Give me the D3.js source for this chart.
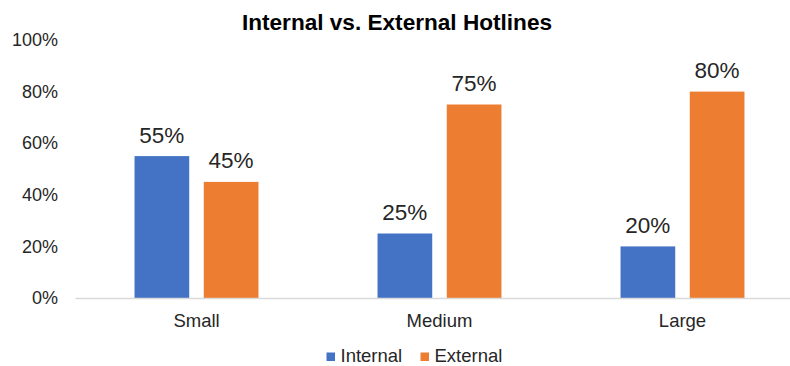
<!DOCTYPE html>
<html>
<head>
<meta charset="utf-8">
<script src="https://cdn.jsdelivr.net/npm/d3@7"></script>
<style>
  body { margin: 0; background: #fff; overflow: hidden; }
  text { font-family: "Liberation Sans", Arial, sans-serif; fill: #262626; }
</style>
</head>
<body>
<div id="wrapper"></div>
<script>
const categories = ["Small", "Medium", "Large"]
const seriesNames = ["Internal", "External"]
const internalValues = [55, 25, 20]
const externalValues = [45, 75, 80]
const yTicks = [0, 20, 40, 60, 80, 100]
const colors = ["#4472C4", "#ED7D31"]

function drawBars() {
    const dimensions = {
        width: 790,
        height: 366,
        margin: { top: 40, right: -14, bottom: 68, left: 75 }
    }
    dimensions.boundedWidth = dimensions.width - dimensions.margin.left - dimensions.margin.right
    dimensions.boundedHeight = dimensions.height - dimensions.margin.top - dimensions.margin.bottom

    const dataset = categories.map((c, i) => ({
        category: c,
        values: [internalValues[i], externalValues[i]]
    }))

    const wrapper = d3.select("#wrapper")
        .append("svg")
        .attr("width", dimensions.width)
        .attr("height", dimensions.height)

    wrapper.append("text")
        .attr("x", 397)
        .attr("y", 30)
        .attr("text-anchor", "middle")
        .style("font-size", "22.6px")
        .style("font-weight", "bold")
        .style("fill", "#000")
        .text("Internal vs. External Hotlines")

    const bounds = wrapper.append("g")
        .attr("transform", `translate(${dimensions.margin.left},${dimensions.margin.top})`)

    const xScale = d3.scaleBand()
        .domain(categories)
        .range([0, dimensions.boundedWidth])
        .paddingInner(0.49)
        .paddingOuter(0.245)

    const innerScale = d3.scaleBand()
        .domain(seriesNames)
        .range([0, xScale.bandwidth()])
        .paddingInner(0.21)

    const yScale = d3.scaleLinear()
        .domain([0, 100])
        .range([dimensions.boundedHeight, 0])

    // y axis labels only
    const yAxis = bounds.append("g")
        .call(d3.axisLeft(yScale).tickValues(yTicks).tickFormat(d => d + "%").tickSize(0).tickPadding(17))
    yAxis.select(".domain").remove()
    yAxis.selectAll("text")
        .style("font-size", "18px")
        .style("font-family", "'Liberation Sans', Arial, sans-serif")
        .attr("fill", "#262626")

    const groups = bounds.selectAll(".group")
        .data(dataset)
        .enter()
        .append("g")
        .attr("transform", d => `translate(${xScale(d.category)},0)`)

    const bars = groups.selectAll("rect")
        .data(d => d.values.map((v, i) => ({ series: seriesNames[i], value: v, i })))
        .enter()

    bars.append("rect")
        .attr("x", d => innerScale(d.series))
        .attr("width", innerScale.bandwidth())
        .attr("y", d => yScale(d.value))
        .attr("height", d => dimensions.boundedHeight - yScale(d.value))
        .attr("fill", d => colors[d.i])

    bars.append("text")
        .attr("x", d => innerScale(d.series) + innerScale.bandwidth() / 2)
        .attr("y", d => yScale(d.value) - 13.5)
        .attr("text-anchor", "middle")
        .style("font-size", "22.5px")
        .text(d => d.value + "%")

    // x axis
    const xAxis = bounds.append("g")
        .attr("transform", `translate(0,${dimensions.boundedHeight})`)
        .call(d3.axisBottom(xScale).tickSize(0).tickPadding(15.5))
    xAxis.select(".domain").attr("stroke", "#d9d9d9").attr("stroke-width", 1.5)
    xAxis.selectAll("text")
        .style("font-size", "18.5px")
        .style("font-family", "'Liberation Sans', Arial, sans-serif")
        .attr("fill", "#262626")

    // legend
    const legendItems = [
        { name: seriesNames[0], x: 326.5 },
        { name: seriesNames[1], x: 420.5 }
    ]
    const legend = wrapper.append("g")
    legendItems.forEach((d, i) => {
        legend.append("rect")
            .attr("x", d.x)
            .attr("y", 352.5)
            .attr("width", 8.5)
            .attr("height", 8.5)
            .attr("fill", colors[i])
        legend.append("text")
            .attr("x", d.x + 14)
            .attr("y", 362)
            .style("font-size", "18.5px")
            .text(d.name)
    })
}

drawBars()
</script>
</body>
</html>
